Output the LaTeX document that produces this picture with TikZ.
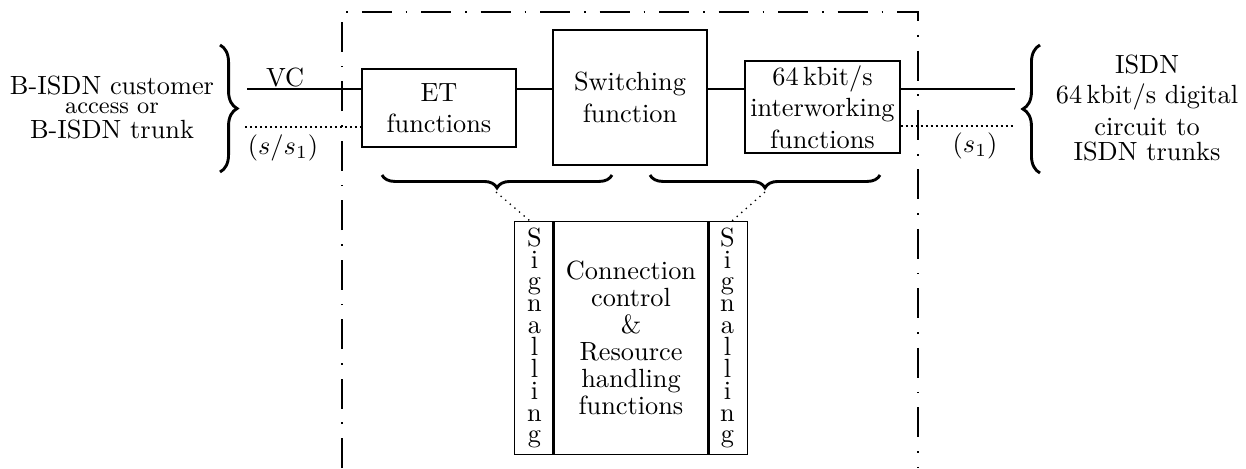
\documentclass[tikz,border=0pt]{standalone}
\usetikzlibrary{decorations.pathreplacing}
\begin{document}
\begin{tikzpicture}[x=0.38pt,y=-0.38pt,
  fbox/.style={draw,line width=0.5pt,inner sep=0pt,align=center},
  conn/.style={line width=0.9pt},
  sigline/.style={line width=0.8pt,dash pattern=on 0.8pt off 1.1pt},
  frame/.style={line width=0.5pt,dash pattern=on 11.4pt off 5.3pt on 0.6pt off 5.3pt},
  bigbrace/.style={decorate,decoration={brace,amplitude=6.5pt},line width=1.1pt},
  subbrace/.style={decorate,decoration={brace,amplitude=4.9pt},line width=1.1pt},
  link/.style={line width=0.5pt,dash pattern=on 0.5pt off 1.8pt},
  vtext/.style={align=center,inner sep=0pt,font={\fontsize{10}{8.3}\selectfont}},
  ctext/.style={align=center,inner sep=0pt,font={\fontsize{10}{10.3}\selectfont}}]
\useasboundingbox (0,0) rectangle (1246,468);

% exchange boundary (open at the bottom)
\draw[frame] (342,468) -- (342,12) -- (918,12) -- (918,468);

% functional blocks
\node[fbox,minimum width=58.5pt,minimum height=29.6pt] (et) at (439,108) {ET\\functions};
\node[fbox,minimum width=58.5pt,minimum height=51.3pt] (sw) at (630,97.5) {Switching\\function};
\node[fbox,minimum width=58.9pt,minimum height=35pt] (iw) at (822.5,107) {64\,kbit/s\\interworking\\functions};

% control block with signalling columns
\node[minimum width=14.8pt,minimum height=88.2pt,inner sep=0pt] (sigL) at (534.5,338) {};
\node[minimum width=58.5pt,minimum height=88.2pt,inner sep=0pt] (ctrl) at (631,338) {};
\node[minimum width=14.8pt,minimum height=88.2pt,inner sep=0pt] (sigR) at (727.5,338) {};
\draw[line width=0.5pt] (sigL.north west) rectangle (sigR.south east);
\draw[line width=0.8pt] (ctrl.north west) -- (ctrl.south west);
\draw[line width=0.8pt] (ctrl.north east) -- (ctrl.south east);
\node[vtext] (sigLt) at (sigL.center) {S\\i\\g\\n\\a\\l\\l\\i\\n\\g};
\node[vtext] (sigRt) at (sigR.center) {S\\i\\g\\n\\a\\l\\l\\i\\n\\g};
\node[ctext] (ctrlt) at (ctrl.center) {Connection\\control\\\&\\Resource\\handling\\functions};

% line ends
\coordinate (vcL) at (247,89);
\coordinate (sL) at (245,127);
\coordinate (vcR) at (1015,89);
\coordinate (sR) at (1015,126);

% user plane
\draw[conn] (vcL) -- (vcL -| et.west);
\draw[conn] (et.east |- vcL) -- (sw.west |- vcL);
\draw[conn] (sw.east |- vcL) -- (iw.west |- vcL);
\draw[conn] (iw.east |- vcR) -- (vcR);

% signalling
\draw[sigline] (sL) -- (sL -| et.west);
\draw[sigline] (iw.east |- sR) -- (sR);

% labels on the lines
\node[anchor=base,inner sep=0pt] (vc) at (285,86) {VC};
\node[inner sep=0pt] (ss1) at (283,148) {$(s/s_1)$};
\node[inner sep=0pt] (s1) at (975,146) {$(s_1)$};

% access side
\draw[bigbrace] (220,45) -- (220,172);
\node[anchor=base,inner sep=0pt] (lt1) at (112,94) {B-ISDN customer};
\node[anchor=base,inner sep=0pt] (lt2) at (112,113) {\small access or};
\node[anchor=base,inner sep=0pt] (lt3) at (112,138) {B-ISDN trunk};

% trunk side
\draw[bigbrace] (1040,173) -- (1040,45);
\node[anchor=base,inner sep=0pt] (rt1) at (1147,73) {ISDN};
\node[anchor=base,inner sep=0pt] (rt2) at (1147,103) {64\,kbit/s digital};
\node[anchor=base,inner sep=0pt] (rt3) at (1147,135) {circuit to};
\node[anchor=base,inner sep=0pt] (rt4) at (1147,160) {ISDN trunks};

% grouping braces and their links to the signalling columns
\coordinate (bL1) at (612,175);
\coordinate (bL2) at (382,175);
\coordinate (bR1) at (880,175);
\coordinate (bR2) at (650,175);
\draw[subbrace] (bL1) -- (bL2);
\draw[subbrace] (bR1) -- (bR2);
\coordinate (tipL) at (496,192);
\coordinate (tipR) at (765,192);
\draw[link] (tipL) -- ([xshift=-1.5pt]sigL.north);
\draw[link] (tipR) -- ([xshift=1.5pt]sigR.north);
\end{tikzpicture}
\end{document}
